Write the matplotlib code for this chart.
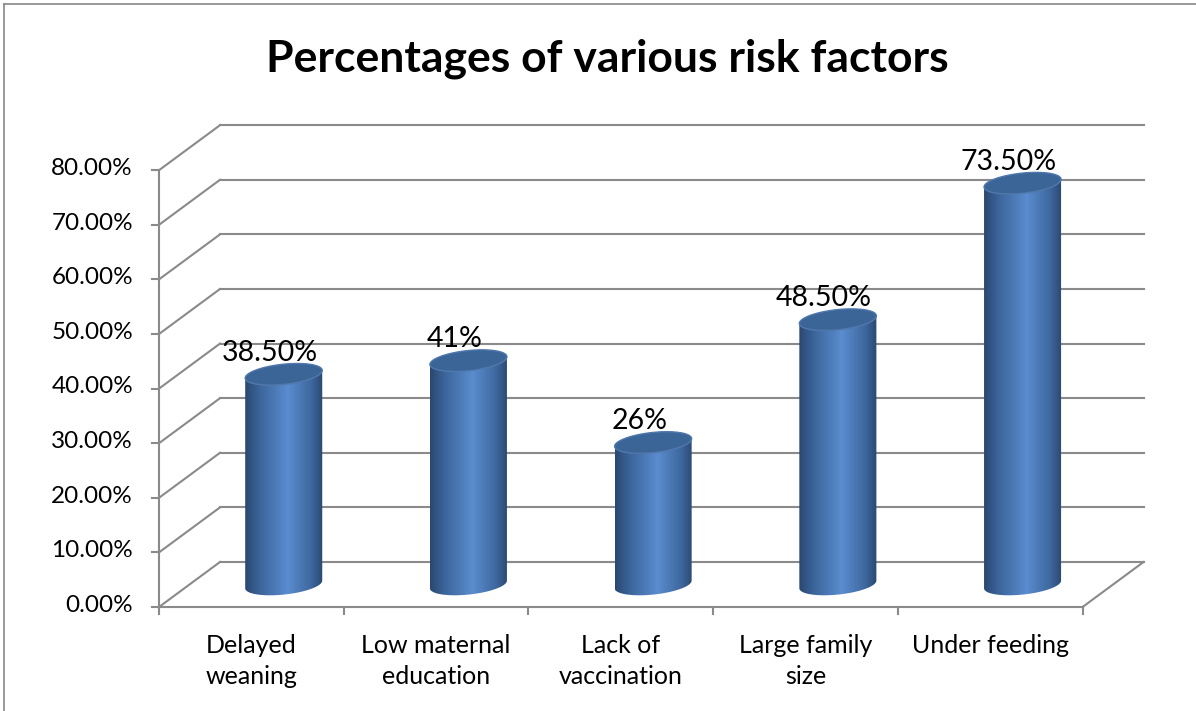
import numpy as np
import matplotlib
matplotlib.use("Agg")
import matplotlib.pyplot as plt
from matplotlib.path import Path
from matplotlib.patches import PathPatch, Polygon
from matplotlib.colors import LinearSegmentedColormap

# data
categories = ["Delayed\nweaning", "Low maternal\neducation", "Lack of\nvaccination",
              "Large family\nsize", "Under feeding"]
values = [38.5, 41.0, 26.0, 48.5, 73.5]
value_labels = ["38.50%", "41%", "26%", "48.50%", "73.50%"]
y_ticks = [0, 10, 20, 30, 40, 50, 60, 70, 80]
y_tick_labels = ["%.2f%%" % v for v in y_ticks]
title = "Percentages of various risk factors"

plt.rcParams['font.family'] = ['Lato', 'DejaVu Sans']

fig = plt.figure(figsize=(11.96, 7.11), dpi=100)
ax = fig.add_axes([0, 0, 1, 1])
ax.set_xlim(-1.361, 5.114)
ax.set_ylim(-19.05, 111.17)
ax.axis('off')

# 3d depth offset (in data units)
dx, dy = 0.33, 8.24
x0, x1 = -0.5, len(categories) - 0.5
grid_c = '#8a8a8a'

# walls / gridlines
for v, lab in zip(y_ticks, y_tick_labels):
    ax.plot([x0, x0 + dx], [v, v + dy], color=grid_c, lw=1.5, zorder=1)
    ax.plot([x0 + dx, x1 + dx], [v + dy, v + dy], color=grid_c, lw=1.5, zorder=1)
    ax.plot([x0 - 0.038, x0], [v, v], color=grid_c, lw=1.5, zorder=5)
    ax.text(-0.641, v + 0.3, lab, ha='right', va='center', fontsize=17.5)
# floor
ax.plot([x0, x1], [0, 0], color=grid_c, lw=1.5, zorder=5)
ax.plot([x1, x1 + dx], [0, dy], color=grid_c, lw=1.5, zorder=1)
ax.plot([x0, x0], [0, 80], color=grid_c, lw=1.5, zorder=5)
for i in range(len(categories) + 1):
    ax.plot([x0 + i, x0 + i], [0, -1.3], color=grid_c, lw=1.5, zorder=5)

# cylinders
cmap = LinearSegmentedColormap.from_list('cyl', [
    (0.0, '#2a4870'), (0.18, '#3b6499'), (0.55, '#5a8ccf'),
    (0.85, '#3e689e'), (1.0, '#2b4872')])
grad = np.linspace(0, 1, 256).reshape(1, -1)
a = 0.2085     # half width
b = 1.85       # half height of ellipse
k = 0.7        # tilt
t = np.linspace(0, 2 * np.pi, 121)

for i, v in enumerate(values):
    cx = i + dx / 2 + 0.01
    base = dy / 2
    top = v + dy / 2
    tb = np.linspace(np.pi, 2 * np.pi, 60)
    tt = np.linspace(0, np.pi, 60)
    bx = cx + a * np.cos(tb)
    by = base + b * np.sin(tb) + k * np.cos(tb)
    tx = cx + a * np.cos(tt)
    ty = top + b * np.sin(tt) + k * np.cos(tt)
    verts = np.vstack([np.column_stack([bx, by]), np.column_stack([tx, ty])])
    body = PathPatch(Path(np.vstack([verts, verts[:1]]), closed=True),
                     facecolor='none', edgecolor='none')
    ax.add_patch(body)
    im = ax.imshow(grad, cmap=cmap, aspect='auto', zorder=3,
                   extent=[cx - a, cx + a, base - b - k, top + b + k])
    im.set_clip_path(body)
    ex = cx + a * np.cos(t)
    ey = top + b * np.sin(t) + k * np.cos(t)
    ax.add_patch(Polygon(np.column_stack([ex, ey]), closed=True,
                         facecolor='#3c6597', edgecolor='#5078ad', lw=1, zorder=4))
    ax.text(cx - 0.075, top + 3.9, value_labels[i], ha='center', va='center',
            fontsize=20.5, zorder=6)

# category labels
for i, c in enumerate(categories):
    ax.text(i, -4.9, c, ha='center', va='top', fontsize=18, linespacing=1.45)

ax.set_xlim(-1.361, 5.114)
ax.set_ylim(-19.05, 111.17)

# title
fig.text(0.508, 0.918, title, ha='center', va='center', fontsize=32, fontweight='bold')

# chart frame
fig.add_artist(plt.Line2D([4 / 1196, 4 / 1196], [0, 1 - 4 / 711], color='#888888', lw=1.2))
fig.add_artist(plt.Line2D([4 / 1196, 1], [1 - 4 / 711, 1 - 4 / 711], color='#888888', lw=1.2))

fig.savefig("out.png", dpi=100)
